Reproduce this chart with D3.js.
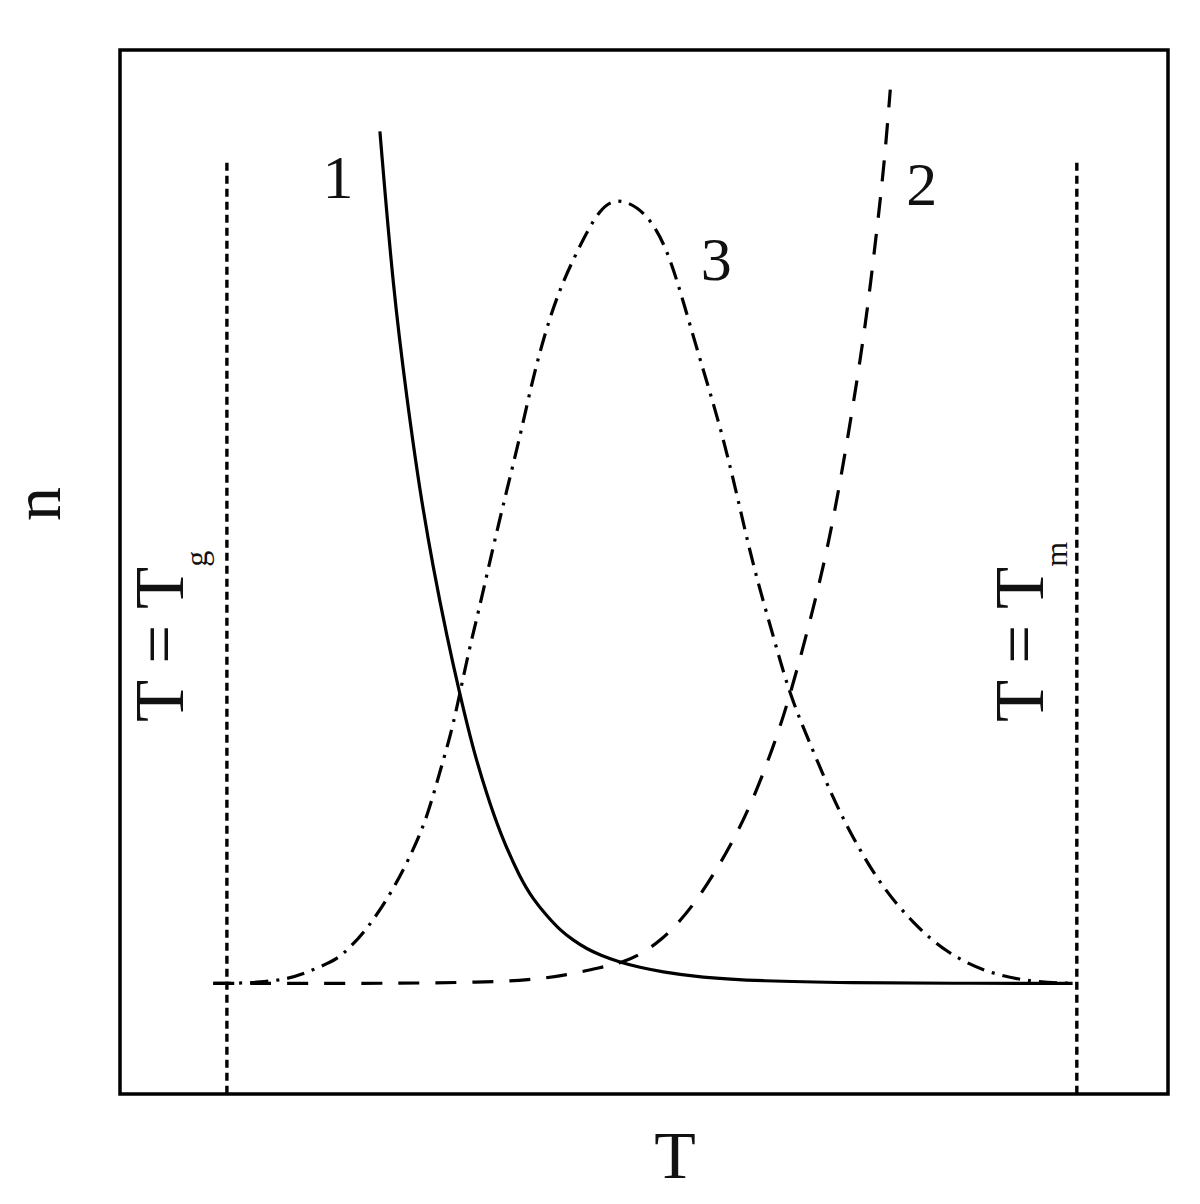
<!DOCTYPE html>
<html>
<head>
<meta charset="utf-8">
<script src="https://cdn.jsdelivr.net/npm/d3@7"></script>
<style>
  html, body { margin: 0; padding: 0; background: #fff; }
  svg text { font-family: "Liberation Serif", "Times New Roman", Times, serif; fill: #111; }
</style>
</head>
<body>
<svg id="chart" width="1200" height="1204"></svg>
<script>
// ---- Data (T and n in arbitrary units) ----
const xDomain = [0, 100];
const yDomain = [0, 100];

// Curve 1 (solid)
const curve1T = [24.8, 26.05, 27.4, 28.6, 29.9, 31.2, 32.4, 33.7, 35.0, 36.26, 38.17, 39.41, 40.74, 41.98, 43.22, 44.56, 45.80, 47.71, 49.62, 51.53, 55.34, 61.07, 69.66, 79.2, 90.9];
const curve1N = [92.2, 77.2, 66.4, 57.8, 50.3, 43.8, 38.4, 33.0, 28.7, 25.0, 20.69, 18.68, 17.05, 15.71, 14.75, 13.89, 13.31, 12.60, 12.12, 11.73, 11.16, 10.82, 10.66, 10.6, 10.6];

// Curve 2 (dashed)
const curve2T = [8.9, 17.2, 26.7, 34.4, 39.1, 42.7, 45.8, 48.0, 49.9, 51.7, 53.4, 55.3, 57.8, 60.1, 62.3, 63.9, 66.1, 67.7, 69.0, 70.3, 71.3, 72.2, 72.9, 73.5];
const curve2N = [10.6, 10.6, 10.6, 10.7, 10.9, 11.4, 12.1, 12.6, 13.5, 14.8, 16.5, 18.9, 22.9, 27.4, 33.1, 38.0, 46.2, 53.1, 60.2, 68.1, 74.9, 82.6, 88.8, 96.2];

// Curve 3 (dash-dot)
const curve3T = [8.9, 10.8, 13.4, 15.9, 17.5, 19.1, 20.7, 21.9, 23.6, 26.05, 28.0, 29.3, 30.5, 31.8, 33.1, 34.4, 35.6, 36.9, 38.2, 39.4, 40.7, 42.0, 43.6, 45.8, 47.7, 50.3, 52.2, 53.7, 55.3, 57.3, 58.9, 60.4, 62.3, 63.9, 66.1, 68.0, 69.9, 72.5, 75.7, 78.9, 82.7, 87.1, 90.9];
const curve3N = [10.6, 10.6, 10.7, 11.0, 11.5, 12.2, 12.9, 14.0, 15.8, 19.5, 23.4, 26.5, 30.8, 35.2, 41.7, 47.0, 52.4, 57.8, 63.1, 68.6, 73.4, 77.2, 80.7, 85.0, 85.9, 84.4, 81.0, 76.1, 70.5, 63.9, 57.3, 50.6, 44.0, 38.2, 32.95, 28.4, 24.6, 20.1, 16.3, 13.5, 11.6, 10.7, 10.6];

// Reference lines
const Tg = 10.2, Tm = 91.3;
const refTop = 89.2;

// Labels
const curveLabels = ["1", "2", "3"];
const xLabel = "T";
const yLabel = "n";

// ---- Drawing ----
const svg = d3.select("#chart");
const mLeft = 120, mRight = 1168, mTop = 50, mBottom = 1094;
const x = d3.scaleLinear().domain(xDomain).range([mLeft, mRight]);
const y = d3.scaleLinear().domain(yDomain).range([mBottom, mTop]);

const toPts = (ts, ns) => ts.map((t, i) => [t, ns[i]]);
const line = d3.line().x(d => x(d[0])).y(d => y(d[1])).curve(d3.curveBasis);

// vertical dotted reference lines
[Tg, Tm].forEach(t => {
  svg.append("line")
    .attr("x1", x(t)).attr("x2", x(t))
    .attr("y1", y(refTop)).attr("y2", y(yDomain[0]))
    .attr("stroke", "#000").attr("stroke-width", 3.4)
    .attr("stroke-dasharray", "8,5");
});

// curves
svg.append("path").datum(toPts(curve2T, curve2N))
  .attr("d", line).attr("fill", "none").attr("stroke", "#000")
  .attr("stroke-width", 3.2).attr("stroke-dasharray", "21,16");

svg.append("path").datum(toPts(curve3T, curve3N))
  .attr("d", line).attr("fill", "none").attr("stroke", "#000")
  .attr("stroke-width", 3.2).attr("stroke-dasharray", "18,8,3,8");

svg.append("path").datum(toPts(curve1T, curve1N))
  .attr("d", line).attr("fill", "none").attr("stroke", "#000")
  .attr("stroke-width", 3.2);

// frame
svg.append("rect")
  .attr("x", mLeft).attr("y", mTop)
  .attr("width", mRight - mLeft).attr("height", mBottom - mTop)
  .attr("fill", "none").attr("stroke", "#000").attr("stroke-width", 3.5);

// curve labels
const labelPos = [[20.8, 85.8], [76.5, 85.2], [56.9, 78.0]];
curveLabels.forEach((s, i) => {
  svg.append("text")
    .attr("x", x(labelPos[i][0])).attr("y", y(labelPos[i][1]))
    .attr("text-anchor", "middle")
    .attr("font-size", 62)
    .text(s);
});

// axis titles
svg.append("text")
  .attr("x", 675).attr("y", 1178)
  .attr("text-anchor", "middle").attr("font-size", 68)
  .text(xLabel);

svg.append("text")
  .attr("transform", "translate(60,504) rotate(-90)")
  .attr("text-anchor", "middle").attr("font-size", 68)
  .text(yLabel);

// rotated T = Tg / T = Tm labels
function refLabel(bx, sub) {
  const t = svg.append("text")
    .attr("transform", `translate(${bx},722) rotate(-90)`)
    .attr("font-size", 69);
  t.append("tspan").text("T = T");
  t.append("tspan").attr("font-size", 32).attr("dy", 24).text(sub);
}
refLabel(x(Tg) - 44, "g");
refLabel(x(Tm) - 34, "m");
</script>
</body>
</html>
